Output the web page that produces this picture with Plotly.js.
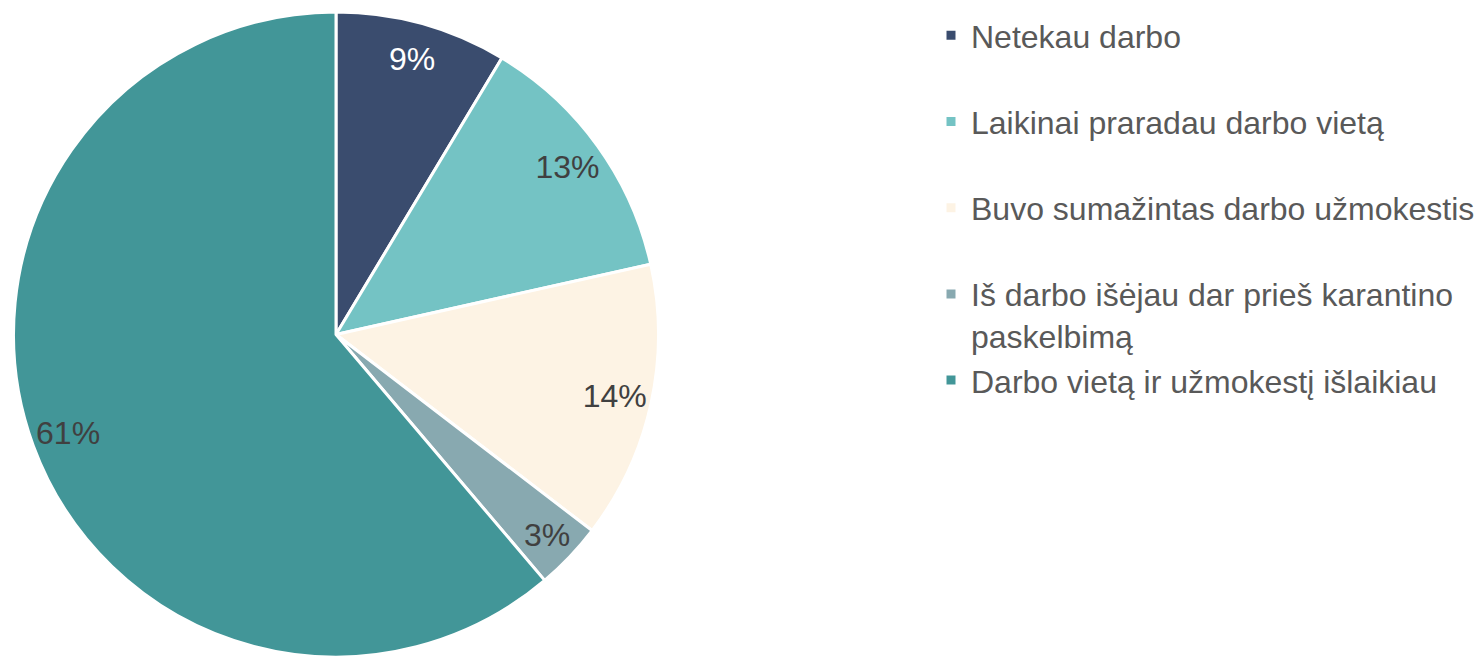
<!DOCTYPE html>
<html>
<head>
<meta charset="utf-8">
<script src="https://cdn.plot.ly/plotly-3.0.1.min.js"></script>
<style>html,body{margin:0;padding:0;background:#fff;overflow:hidden;}#chart{width:1476px;height:657px;}</style>
</head>
<body>
<div id="chart"></div>
<script>
const categories = [
  "Netekau darbo",
  "Laikinai praradau darbo vietą",
  "Buvo sumažintas darbo užmokestis",
  "Iš darbo išėjau dar prieš karantino paskelbimą",
  "Darbo vietą ir užmokestį išlaikiau"
];
const shares = [8.6, 12.9, 13.9, 3.4, 61.2];
const colors = ["#3A4C6E", "#74C3C4", "#FDF3E4", "#88A9B0", "#429698"];
const labelColors = ["#FFFFFF", "#404040", "#404040", "#404040", "#404040"];

// legend text: wrap long label, pad single-line entries with an empty line
const legendLabels = categories.map(function (c) {
  if (c.indexOf("karantino ") > -1) return c.replace("karantino ", "karantino<br>");
  if (c === categories[categories.length - 1]) return c;
  return c + "<br>\u00A0";
});

const dom = {x: [13/1476, 659/1476], y: [0, 0.9817]};

const pieMain = {
  type: "pie",
  labels: legendLabels,
  values: shares,
  sort: false,
  direction: "clockwise",
  rotation: 0,
  domain: dom,
  marker: {colors: colors, line: {color: "#FFFFFF", width: 3}},
  textinfo: "none",
  hoverinfo: "label+percent",
  showlegend: true
};

const pieText = {
  type: "pie",
  labels: legendLabels,
  values: shares,
  sort: false,
  direction: "clockwise",
  rotation: 0,
  domain: dom,
  hole: 0.77,
  marker: {colors: colors.map(function(){return "rgba(0,0,0,0)";}), line: {width: 0}},
  texttemplate: "%{percent:.0%}",
  textposition: "inside",
  insidetextorientation: "horizontal",
  textfont: {family: "Liberation Sans, Arial, sans-serif", size: 32, color: labelColors},
  hoverinfo: "skip",
  showlegend: false
};

const layout = {
  width: 1476,
  height: 657,
  margin: {l: 0, r: 0, t: 0, b: 0, autoexpand: false},
  paper_bgcolor: "#FFFFFF",
  font: {family: "Liberation Sans, Arial, sans-serif", color: "#595959"},
  legend: {
    x: 931/1476,
    xanchor: "left",
    y: 1 - 8/657,
    yanchor: "top",
    valign: "top",
    font: {size: 32, color: "#595959"},
    bgcolor: "rgba(0,0,0,0)",
    traceorder: "normal"
  },
  showlegend: true
};

Plotly.newPlot("chart", [pieMain, pieText], layout, {displayModeBar: false, staticPlot: true});
</script>
</body>
</html>
